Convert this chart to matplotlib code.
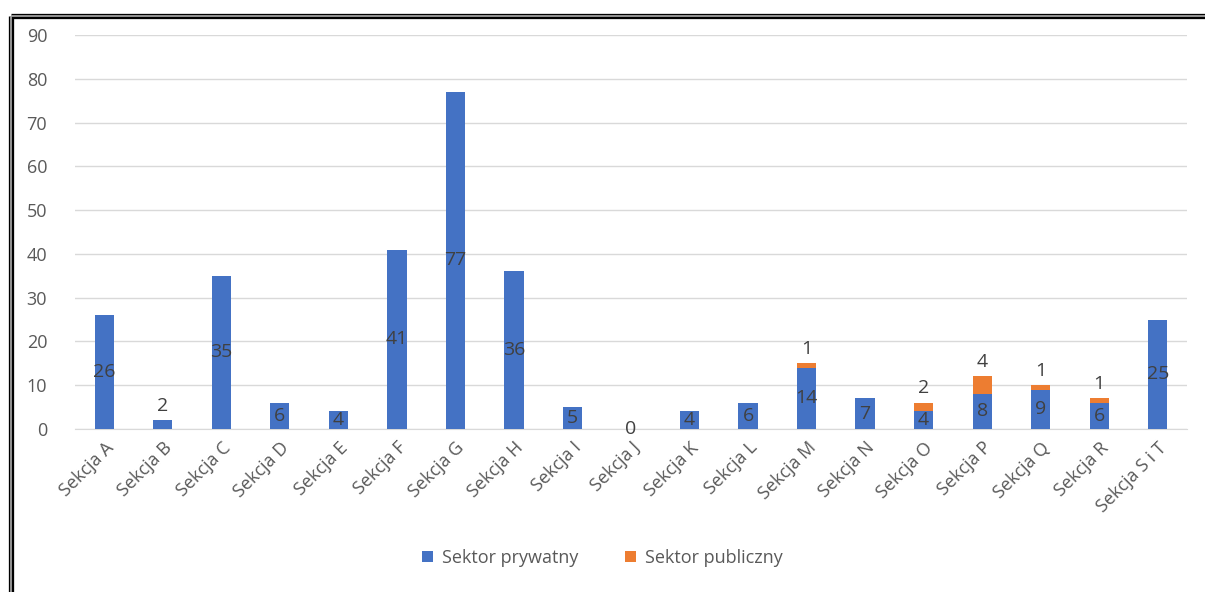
import numpy as np
import matplotlib
matplotlib.use("Agg")
import matplotlib.pyplot as plt
from matplotlib.lines import Line2D

plt.rcParams['font.family'] = ['Open Sans', 'DejaVu Sans']

# data
sections = ["Sekcja A", "Sekcja B", "Sekcja C", "Sekcja D", "Sekcja E", "Sekcja F",
            "Sekcja G", "Sekcja H", "Sekcja I", "Sekcja J", "Sekcja K", "Sekcja L",
            "Sekcja M", "Sekcja N", "Sekcja O", "Sekcja P", "Sekcja Q", "Sekcja R",
            "Sekcja S i T"]
private = [26, 2, 35, 6, 4, 41, 77, 36, 5, 0, 4, 6, 14, 7, 4, 8, 9, 6, 25]
public = [0, 0, 0, 0, 0, 0, 0, 0, 0, 0, 0, 0, 1, 0, 2, 4, 1, 1, 0]
series_names = ["Sektor prywatny", "Sektor publiczny"]

blue = "#4472C4"
orange = "#ED7D31"
grey_txt = "#595959"
lbl_txt = "#404040"

W, H = 1205, 592
fig = plt.figure(figsize=(W / 100, H / 100), dpi=100)
ax = fig.add_axes([75 / W, 1 - 429 / H, (1187 - 75) / W, (429 - 35) / H])

x = np.arange(len(sections))
bw = 0.33
ax.bar(x, private, bw, color=blue, label=series_names[0], zorder=3)
ax.bar(x, public, bw, bottom=private, color=orange, label=series_names[1], zorder=3)

# labels
for i, (p, q) in enumerate(zip(private, public)):
    if 0 < p <= 2:
        ax.annotate(str(p), (x[i], p), xytext=(0, 4), textcoords="offset points",
                    ha="center", va="bottom", fontsize=14, color=lbl_txt, zorder=4)
    else:
        ax.text(x[i], p / 2, str(p), ha="center", va="center", fontsize=14,
                color=lbl_txt, zorder=4)
    if q > 0:
        ax.annotate(str(q), (x[i], p + q), xytext=(0, 4), textcoords="offset points",
                    ha="center", va="bottom", fontsize=14, color=lbl_txt, zorder=4)

ax.set_xlim(-0.5, len(sections) - 0.5)
ax.set_ylim(0, 90)
ax.set_yticks(np.arange(0, 91, 10))
ax.yaxis.grid(True, color="#d9d9d9", linewidth=1, zorder=0)
ax.set_axisbelow(True)
for s in ["top", "right", "left"]:
    ax.spines[s].set_visible(False)
ax.spines["bottom"].set_color("#d9d9d9")
ax.tick_params(axis="both", length=0, labelsize=13, colors=grey_txt)
ax.tick_params(axis="y", pad=20)
ax.tick_params(axis="x", pad=7)
ax.set_xticks(x)
ax.set_xticklabels(sections, rotation=45, ha="right", rotation_mode="anchor")

leg = fig.legend(loc="center", bbox_to_anchor=(0.5, 1 - 558 / H), ncol=2, frameon=False,
                 fontsize=13, handlelength=0.6, handleheight=0.6, columnspacing=2.6,
                 handletextpad=0.5)
for t in leg.get_texts():
    t.set_color(grey_txt)

# double frame around the chart
def fline(xs, ys, **kw):
    fig.add_artist(Line2D([v / W for v in xs], [1 - v / H for v in ys],
                          transform=fig.transFigure, **kw))

fline([11, 11], [16, H + 5], color="black", linewidth=3.8, solid_capstyle="butt")
fline([11, W + 5], [16, 16], color="black", linewidth=3.8, solid_capstyle="butt")
fline([11, 11], [16, H + 5], color="#a0a0a0", linewidth=1.3, solid_capstyle="butt")
fline([11, W + 5], [16, 16], color="#a0a0a0", linewidth=1.3, solid_capstyle="butt")

fig.savefig("out.png", dpi=100)
